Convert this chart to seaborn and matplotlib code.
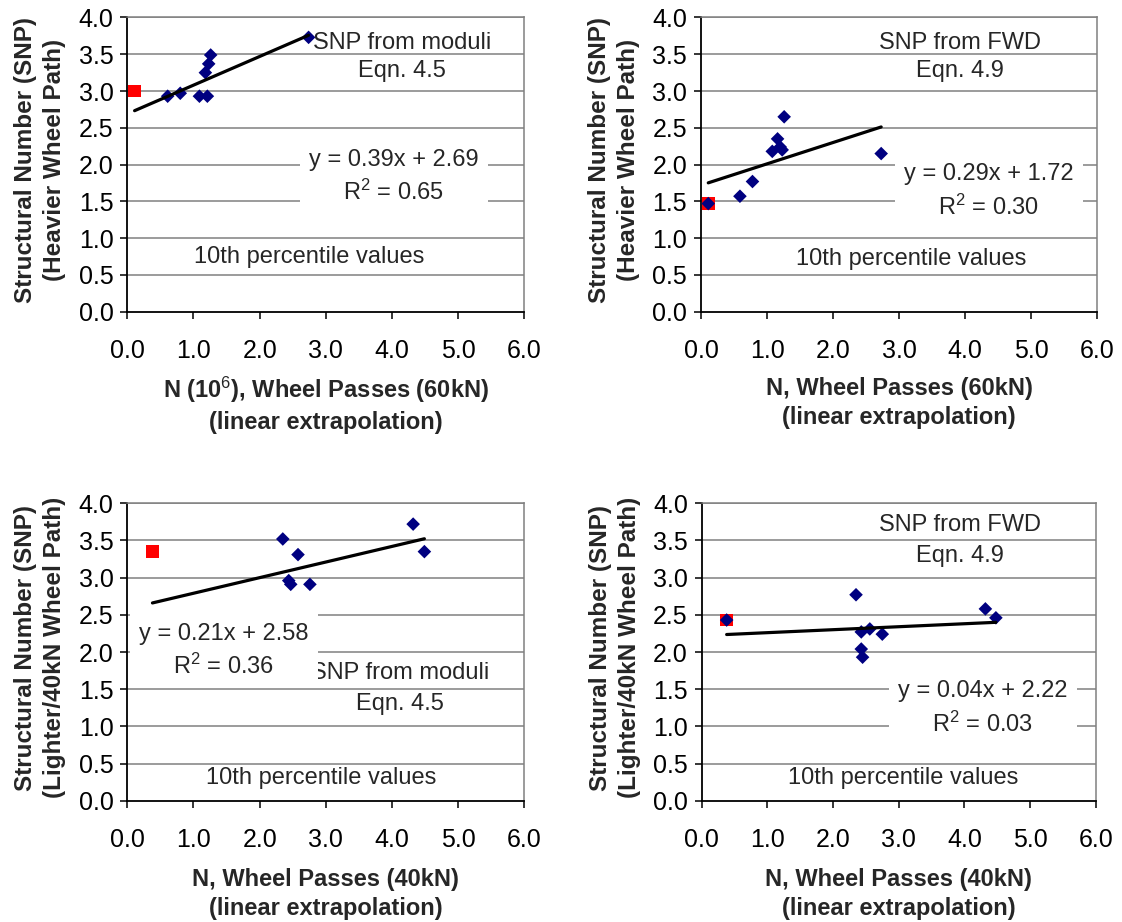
import numpy as np
import pandas as pd
import matplotlib
matplotlib.use("Agg")
import matplotlib.pyplot as plt
import seaborn as sns
from matplotlib.ticker import MultipleLocator, FormatStrFormatter

# ---------------- data ----------------
# Panel 1: SNP from moduli, heavier wheel path vs N (60kN)
p1_x = [0.61, 0.80, 1.09, 1.21, 1.18, 1.23, 1.26, 2.74]
p1_y = [2.93, 2.97, 2.93, 2.93, 3.25, 3.37, 3.49, 3.73]
p1_red = [0.11, 3.00]
# Panel 2: SNP from FWD, heavier wheel path vs N (60kN)
p2_x = [0.11, 0.59, 0.78, 1.08, 1.16, 1.20, 1.23, 1.26, 2.73]
p2_y = [1.47, 1.57, 1.77, 2.18, 2.35, 2.24, 2.20, 2.65, 2.15]
p2_red = [0.11, 1.47]
# Panel 3: SNP from moduli, lighter wheel path vs N (40kN)
p3_x = [2.35, 2.58, 2.44, 2.47, 2.76, 4.32, 4.49]
p3_y = [3.52, 3.31, 2.96, 2.91, 2.91, 3.72, 3.35]
p3_red = [0.38, 3.35]
# Panel 4: SNP from FWD, lighter wheel path vs N (40kN)
p4_x = [0.38, 2.35, 2.43, 2.56, 2.75, 2.43, 2.45, 4.32, 4.48]
p4_y = [2.43, 2.77, 2.27, 2.31, 2.24, 2.04, 1.93, 2.58, 2.46]
p4_red = [0.38, 2.43]

# trendline coefficients (as printed on the chart)
slopes = [0.39, 0.29, 0.21, 0.04]
intercepts = [2.69, 1.72, 2.58, 2.22]
r2_values = ["0.65", "0.30", "0.36", "0.03"]

x_ticks = [0, 1, 2, 3, 4, 5, 6]
y_ticks = [0.0, 0.5, 1.0, 1.5, 2.0, 2.5, 3.0, 3.5, 4.0]

ylabels = ["Structural Number (SNP)\n(Heavier Wheel Path)",
           "Structural Number (SNP)\n(Heavier Wheel Path)",
           "Structural Number (SNP)\n(Lighter/40kN Wheel Path)",
           "Structural Number (SNP)\n(Lighter/40kN Wheel Path)"]
xlabels = ["N (10$^{6}$), Wheel Passes (60kN)\n(linear extrapolation)",
           "N, Wheel Passes (60kN)\n(linear extrapolation)",
           "N, Wheel Passes (40kN)\n(linear extrapolation)",
           "N, Wheel Passes (40kN)\n(linear extrapolation)"]
title_lines = [("SNP from moduli", "Eqn. 4.5"), ("SNP from FWD", "Eqn. 4.9"),
               ("SNP from moduli", "Eqn. 4.5"), ("SNP from FWD", "Eqn. 4.9")]
# annotation positions (data coords)
method_pos = [(4.15, 3.66, 3.27), (3.92, 3.66, 3.27), (4.12, 1.72, 1.30), (3.94, 3.71, 3.29)]
eq_pos = [(4.03, 1.83), (4.36, 1.635), (1.46, 2.015), (4.28, 1.24)]
pct_pos = [(2.75, 0.74), (3.18, 0.71), (2.93, 0.31), (3.07, 0.31)]
xlabel_y = [-0.215, -0.222, -0.226, -0.226]

# ---------------- styling ----------------
sns.set_style("white")
plt.rcParams["font.family"] = ["Liberation Sans", "DejaVu Sans"]
plt.rcParams["mathtext.fontset"] = "custom"
plt.rcParams["mathtext.rm"] = "Liberation Sans"
plt.rcParams["mathtext.it"] = "Liberation Sans:italic"
plt.rcParams["mathtext.bf"] = "Liberation Sans:bold"

FS = 17
TFS = 18
NAVY = "#000080"
GRID = "#808080"

fig = plt.figure(figsize=(11.22, 9.22), dpi=100)
W, H = 1122, 922
rects = [(127.3, 17.5, 397, 294.2), (701.0, 17.5, 396, 294.2),
         (127.3, 503.3, 397, 297.4), (701.7, 503.3, 394, 297.4)]

panels = [(p1_x, p1_y, p1_red), (p2_x, p2_y, p2_red),
          (p3_x, p3_y, p3_red), (p4_x, p4_y, p4_red)]

for i, (px, py, red) in enumerate(panels):
    l, t, w, h = rects[i]
    ax = fig.add_axes([l / W, 1 - (t + h) / H, w / W, h / H])
    ax.set_xlim(0, 6)
    ax.set_ylim(0, 4)
    # gridlines
    for yv in y_ticks[1:]:
        ax.axhline(yv, color=GRID, lw=1.1, zorder=0)

    # red highlighted point
    red_df = pd.DataFrame({"x": [red[0]], "y": [red[1]]})
    sns.scatterplot(data=red_df, x="x", y="y", marker="s", s=85, color="#FF0000",
                    edgecolor="none", linewidth=0, ax=ax, zorder=3)
    # data points
    df = pd.DataFrame({"x": px, "y": py})
    sns.scatterplot(data=df, x="x", y="y", marker="D", s=48, color=NAVY,
                    edgecolor="none", linewidth=0, ax=ax, zorder=4)
    # trendline
    xs = np.array([red[0], max(px)])
    line_df = pd.DataFrame({"x": xs, "y": slopes[i] * xs + intercepts[i]})
    sns.lineplot(data=line_df, x="x", y="y", color="black", lw=2.3, ax=ax, zorder=5)

    # text annotations
    mx, my1, my2 = method_pos[i]
    ax.text(mx, my1, title_lines[i][0], ha="center", va="center", fontsize=FS, zorder=6)
    ax.text(mx, my2, title_lines[i][1], ha="center", va="center", fontsize=FS, zorder=6)
    ex, ey = eq_pos[i]
    eq_text = f"y = {slopes[i]:.2f}x + {intercepts[i]:.2f}\nR$^{{2}}$ = {r2_values[i]}"
    ax.text(ex, ey, eq_text, ha="center", va="center", fontsize=FS, linespacing=1.45,
            multialignment="center", zorder=6,
            bbox=dict(boxstyle="square,pad=0.4", facecolor="white", edgecolor="none"))
    ax.text(pct_pos[i][0], pct_pos[i][1], "10th percentile values", ha="center",
            va="center", fontsize=FS, zorder=6)

    # axes styling
    ax.xaxis.set_major_locator(MultipleLocator(1.0))
    ax.yaxis.set_major_locator(MultipleLocator(0.5))
    ax.xaxis.set_major_formatter(FormatStrFormatter("%.1f"))
    ax.yaxis.set_major_formatter(FormatStrFormatter("%.1f"))
    ax.tick_params(axis="x", direction="out", length=5, width=1.1, colors="black",
                   labelsize=TFS, pad=15, bottom=True)
    ax.tick_params(axis="y", direction="out", length=5, width=1.1, colors="black",
                   labelsize=TFS, pad=5, left=True)
    for side in ["left", "bottom"]:
        ax.spines[side].set_color("black")
        ax.spines[side].set_linewidth(1.3)
    for side in ["top", "right"]:
        ax.spines[side].set_color(GRID)
        ax.spines[side].set_linewidth(1.1)
        ax.spines[side].set_visible(True)

    ax.set_xlabel(xlabels[i], fontsize=FS, fontweight="bold", linespacing=1.35)
    ax.set_ylabel(ylabels[i], fontsize=17.5, fontweight="bold", linespacing=1.3)
    ax.xaxis.set_label_coords(0.5, xlabel_y[i])
    ax.xaxis.label.set_va("top")
    ax.yaxis.set_label_coords(-0.155, 0.515)
    ax.grid(False)

fig.savefig("out.png", dpi=100, facecolor="white")
